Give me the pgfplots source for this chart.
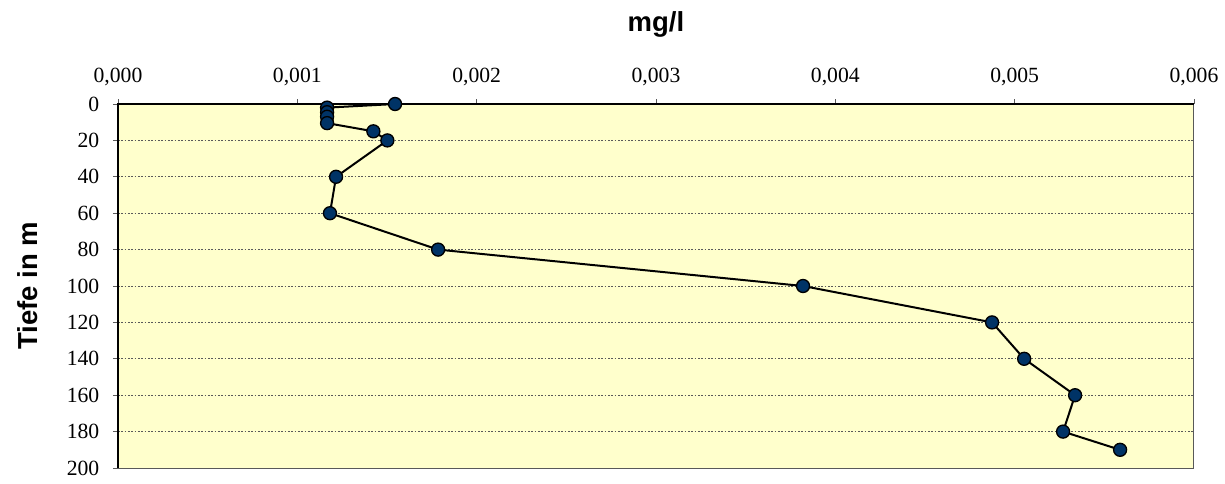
\documentclass[border=0pt]{standalone}
\usepackage{fontspec}
\setmainfont{Liberation Serif}
\newfontfamily\arial{Liberation Sans}
\usepackage{pgfplots}
\pgfplotsset{compat=1.18}
\definecolor{bgy}{HTML}{FFFFCC}
\definecolor{navy}{HTML}{003366}
\begin{document}
\begin{tikzpicture}[x=0.6pt,y=0.6pt]
\useasboundingbox (-118,-15) rectangle (1107,468);
\begin{axis}[
  at={(0,0)}, anchor=south west,
  scale only axis,
  width=645.6pt, height=218.4pt,
  xmin=0, xmax=0.006, ymin=0, ymax=200,
  y dir=reverse,
  xtick={0,0.001,...,0.006},
  ytick={0,20,...,200},
  xticklabel pos=upper,
  xtick pos=upper,
  ytick pos=left,
  tick align=outside,
  major tick length=3pt,
  tick style={gray!70!black, thin},
  scaled x ticks=false,
  /pgf/number format/.cd, use comma, fixed, fixed zerofill, precision=3, assume math mode=true,
  /pgfplots/.cd,
  yticklabel style={/pgf/number format/precision=0, /pgf/number format/fixed zerofill=false, font=\fontsize{13}{15}\selectfont, anchor=east, inner sep=0pt, xshift=-8pt},
  xticklabel style={font=\fontsize{13}{15}\selectfont, anchor=center, inner sep=0pt, yshift=13pt},
  ymajorgrids,
  major grid style={gray!70!black, dash pattern=on 1pt off 1pt, thin},
  axis background/.style={fill=bgy},
  axis line style={gray!70!black, line width=0.6pt},
  xlabel={\arial\bfseries mg/l},
  ylabel={\arial\bfseries Tiefe in m},
  xlabel style={font=\fontsize{16.5}{18}\selectfont, at={(axis description cs:0.5,1)}, anchor=center, yshift=48pt},
  ylabel style={font=\fontsize{16.5}{18}\selectfont, at={(axis description cs:-0.0836,0.5)}, anchor=center},
  clip=false,
]
\draw[black, line width=0.8pt] (axis cs:0,200) -- (axis cs:0,0) -- (axis cs:0.006,0);
\addplot[black, line width=1.2pt, mark=*, mark size=3.9pt, mark options={fill=navy, draw=black, line width=0.8pt}] coordinates {
(0.001545,0)
(0.001166,2)
(0.001166,4.5)
(0.001166,7)
(0.001166,10.5)
(0.001424,15)
(0.001502,20)
(0.001216,40)
(0.001182,60)
(0.001785,80)
(0.003820,100)
(0.004874,120)
(0.005053,140)
(0.005337,160)
(0.005270,180)
(0.005588,190)
};
\end{axis}
\end{tikzpicture}
\end{document}
